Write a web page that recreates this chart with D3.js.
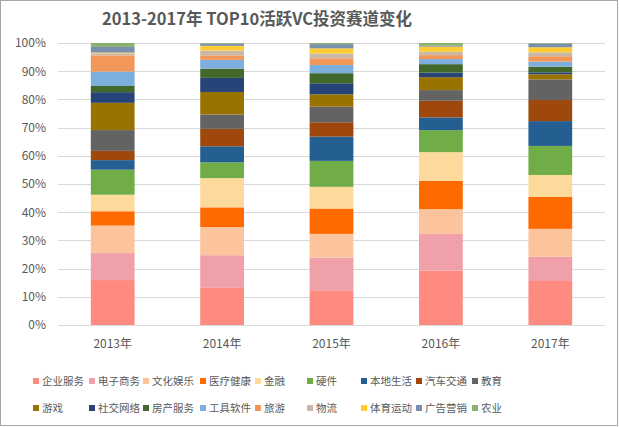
<!DOCTYPE html>
<html><head><meta charset="utf-8">
<script src="https://cdn.jsdelivr.net/npm/d3@7"></script>
<style>
body{margin:0;background:#fff;}
svg{display:block;}
text{font-family:"Noto Sans CJK SC","Microsoft YaHei",sans-serif;}
</style></head>
<body>
<svg id="c" width="619" height="427"></svg>
<script>
const years = ["2013年","2014年","2015年","2016年","2017年"];
const sectors = ["企业服务","电子商务","文化娱乐","医疗健康","金融","硬件","本地生活","汽车交通","教育",
                 "游戏","社交网络","房产服务","工具软件","旅游","物流","体育运动","广告营销","农业"];
const colors = ["#FF8A80","#EFA0A8","#FBC49D","#FF6A00","#FDD99B","#70AD47","#255E91","#9E480E","#636363",
                "#997300","#264478","#43682B","#7CAFDD","#F1975A","#C9B8A6","#FFCD33","#7890AC","#8CB070"];
// percentage share per sector, one value per year
const v2013 = [16.0,9.6,9.8,5.1,5.9,8.9,3.4,3.3,7.4,9.7,3.8,2.2,5.1,5.8,0.7,0.3,2.0,1.4];
const v2014 = [13.2,11.6,10.0,7.0,10.4,5.6,5.7,6.2,5.1,8.0,5.0,3.3,3.1,1.6,1.7,1.7,0.8,0.2];
const v2015 = [12.1,11.8,8.4,9.0,7.7,9.2,8.6,5.1,5.5,4.4,3.9,3.6,2.9,2.4,1.7,1.8,1.5,0.4];
const v2016 = [19.3,13.0,8.8,10.0,10.2,7.8,4.5,5.9,3.8,4.6,1.6,3.0,1.8,1.4,1.2,1.8,0.3,1.0];
const v2017 = [15.6,8.6,9.9,11.3,7.8,10.3,8.8,7.5,7.3,1.8,0.7,2.0,1.8,1.9,1.4,1.8,1.3,0.2];
const yTicks = [0,10,20,30,40,50,60,70,80,90,100];

const allVals = [v2013,v2014,v2015,v2016,v2017];
const rows = years.map((y,i)=>{
  const o = {year:y};
  const tot = d3.sum(allVals[i]);
  sectors.forEach((s,j)=>{ o[s] = allVals[i][j]/tot*100; });
  return o;
});

const svg = d3.select("#c");
svg.append("rect").attr("x",0.5).attr("y",0.5).attr("width",617).attr("height",425)
  .attr("fill","#fff").attr("stroke","#A6A6A6");

const M = {left:58, right:605, top:43, bottom:325};
const x = d3.scaleBand().domain(years).range([M.left,M.right]).paddingInner(0.6).paddingOuter(0.3);
const y = d3.scaleLinear().domain([0,100]).range([M.bottom,M.top]);

// title
svg.append("text").attr("x",257).attr("y",25).attr("text-anchor","middle")
  .attr("font-size",16.5).attr("font-weight","bold").attr("fill","#595959")
  .text("2013-2017年 TOP10活跃VC投资赛道变化");

// gridlines
svg.append("g").selectAll("line").data(yTicks).join("line")
  .attr("x1",M.left).attr("x2",M.right)
  .attr("y1",d=>Math.round(y(d))+0.5).attr("y2",d=>Math.round(y(d))+0.5)
  .attr("stroke","#D9D9D9").attr("stroke-width",1);

// y labels
const yAxis = d3.axisLeft(y).tickValues(yTicks).tickFormat(d=>d+"%").tickSize(0).tickPadding(12);
const gy = svg.append("g").attr("transform",`translate(${M.left},0)`).call(yAxis);
gy.select(".domain").remove();
gy.selectAll("text").attr("font-size",12).attr("fill","#595959")
  .attr("font-family","'Noto Sans CJK SC',sans-serif");

// bars
const stack = d3.stack().keys(sectors);
const series = stack(rows);
svg.append("g").selectAll("g").data(series).join("g")
  .attr("fill",(d,i)=>colors[i])
  .selectAll("rect").data(d=>d).join("rect")
  .attr("x",d=>x(d.data.year))
  .attr("width",x.bandwidth())
  .attr("y",d=>y(d[1]))
  .attr("height",d=>Math.max(0,y(d[0])-y(d[1])));

// x labels
const xAxis = d3.axisBottom(x).tickSize(0).tickPadding(14);
const gx = svg.append("g").attr("transform",`translate(0,${M.bottom})`).call(xAxis);
gx.select(".domain").remove();
gx.selectAll("text").attr("font-size",12).attr("fill","#595959")
  .attr("font-family","'Noto Sans CJK SC',sans-serif");

// legend
const colX = [33,89,143,200,255,307,361,416,472];
const rowY = [381,408];
const lg = svg.append("g").selectAll("g").data(sectors).join("g")
  .attr("transform",(d,i)=>`translate(${colX[i%9]},${rowY[Math.floor(i/9)]})`);
lg.append("rect").attr("x",0).attr("y",-3).attr("width",6).attr("height",6).attr("fill",(d,i)=>colors[i]);
lg.append("text").attr("x",9).attr("y",0).attr("dy","0.35em").attr("font-size",10.5)
  .attr("fill","#595959").text(d=>d);
</script>
</body></html>
